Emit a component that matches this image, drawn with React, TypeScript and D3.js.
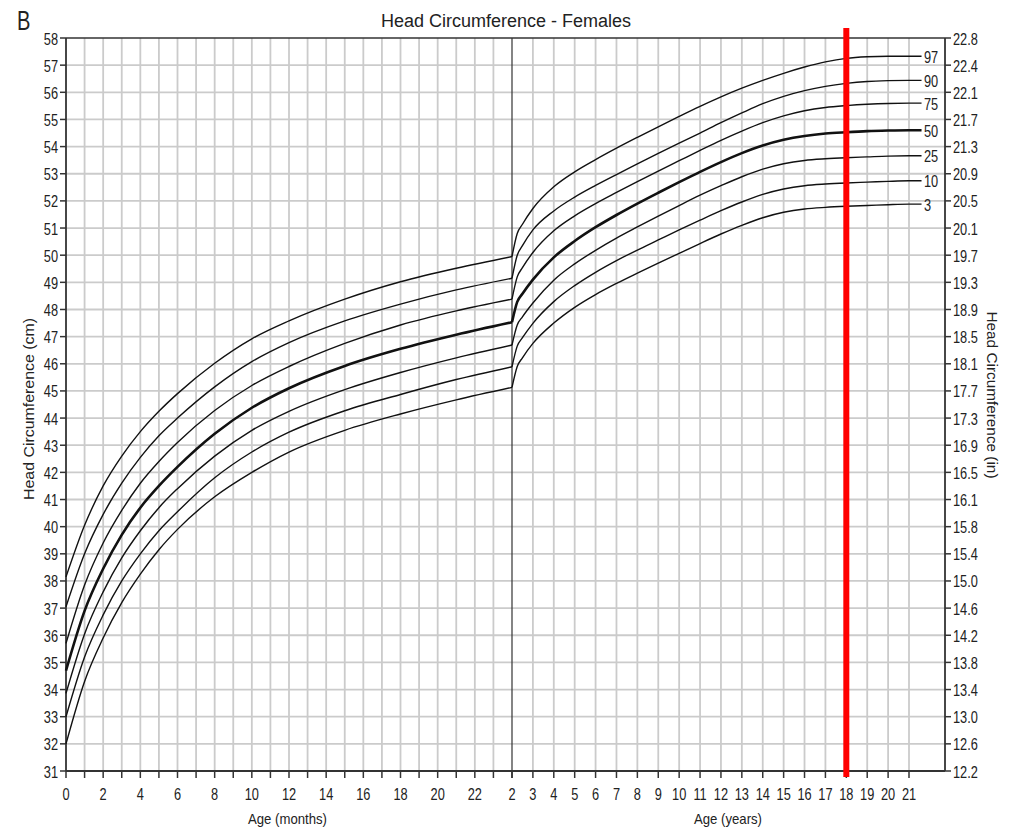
import React from "react";
import * as d3 from "d3";

const width = 1017;
const height = 831;

// infant section, ages in months
const months = [0, 1, 2, 3, 4, 5, 6, 8, 10, 12, 15, 18, 21, 24];
const monthP3 = [32.0, 34.3, 35.9, 37.2, 38.25, 39.15, 39.9, 41.1, 42.0, 42.75, 43.55, 44.15, 44.67, 45.13];
const monthP10 = [33.0, 35.2, 36.75, 38.0, 39.0, 39.85, 40.55, 41.8, 42.75, 43.48, 44.27, 44.87, 45.42, 45.89];
const monthP25 = [33.86, 36.05, 37.6, 38.85, 39.85, 40.7, 41.4, 42.6, 43.55, 44.25, 45.05, 45.68, 46.22, 46.69];
const monthP50 = [34.7, 36.9, 38.45, 39.7, 40.7, 41.5, 42.2, 43.42, 44.38, 45.1, 45.92, 46.55, 47.07, 47.53];
const monthP75 = [35.7, 37.85, 39.4, 40.6, 41.6, 42.4, 43.1, 44.28, 45.2, 45.9, 46.75, 47.43, 47.95, 48.38];
const monthP90 = [37.05, 39.0, 40.45, 41.6, 42.55, 43.35, 44.0, 45.15, 46.08, 46.78, 47.58, 48.2, 48.72, 49.15];
const monthP97 = [38.15, 40.05, 41.5, 42.6, 43.5, 44.25, 44.9, 46.02, 46.92, 47.58, 48.38, 49.02, 49.52, 49.95];

// child section, ages in years
const years = [2, 2.25, 2.5, 3, 4, 5, 6, 7, 8, 9, 10, 11, 12, 13, 14, 15, 16, 17, 18, 19, 20, 21, 21.6];
const yearP3 = [45.13, 45.9, 46.22, 46.75, 47.5, 48.08, 48.55, 48.96, 49.34, 49.71, 50.07, 50.43, 50.78, 51.1, 51.38, 51.58, 51.7, 51.76, 51.8, 51.83, 51.86, 51.88, 51.88];
const yearP10 = [45.89, 46.65, 46.96, 47.49, 48.29, 48.88, 49.37, 49.8, 50.19, 50.56, 50.93, 51.29, 51.64, 51.96, 52.24, 52.44, 52.56, 52.62, 52.66, 52.69, 52.72, 52.74, 52.74];
const yearP25 = [46.69, 47.43, 47.73, 48.24, 49.08, 49.68, 50.18, 50.63, 51.04, 51.44, 51.83, 52.21, 52.56, 52.89, 53.17, 53.37, 53.49, 53.55, 53.59, 53.62, 53.65, 53.66, 53.66];
const yearP50 = [47.53, 48.28, 48.58, 49.1, 49.92, 50.52, 51.03, 51.48, 51.9, 52.3, 52.69, 53.07, 53.43, 53.76, 54.04, 54.25, 54.39, 54.48, 54.53, 54.57, 54.59, 54.6, 54.6];
const yearP75 = [48.38, 49.2, 49.54, 50.1, 50.9, 51.45, 51.9, 52.31, 52.71, 53.1, 53.48, 53.86, 54.23, 54.57, 54.88, 55.13, 55.32, 55.44, 55.51, 55.56, 55.59, 55.6, 55.6];
const yearP90 = [49.15, 50.0, 50.35, 50.93, 51.63, 52.14, 52.57, 52.97, 53.36, 53.75, 54.13, 54.5, 54.88, 55.24, 55.58, 55.85, 56.06, 56.22, 56.33, 56.4, 56.43, 56.44, 56.44];
const yearP97 = [49.95, 50.8, 51.14, 51.72, 52.52, 53.07, 53.52, 53.94, 54.34, 54.73, 55.11, 55.48, 55.83, 56.15, 56.44, 56.7, 56.93, 57.12, 57.25, 57.31, 57.33, 57.33, 57.33];

const percentiles = ["3", "10", "25", "50", "75", "90", "97"];
const monthSeries = [monthP3, monthP10, monthP25, monthP50, monthP75, monthP90, monthP97];
const yearSeries = [yearP3, yearP10, yearP25, yearP50, yearP75, yearP90, yearP97];

const cmTicks = d3.range(31, 59);
const inchLabels = [
  "12.2", "12.6", "13.0", "13.4", "13.8", "14.2", "14.6", "15.0", "15.4", "15.8",
  "16.1", "16.5", "16.9", "17.3", "17.7", "18.1", "18.5", "18.9", "19.3", "19.7",
  "20.1", "20.5", "20.9", "21.3", "21.7", "22.1", "22.4", "22.8",
];
const monthTicks = d3.range(0, 25);
const monthLabels = d3.range(0, 23, 2);
const yearTicks = d3.range(2, 22);
const markerAge = 18;

const left = 66;
const divider = 512;
const right = 945;
const top = 38;
const bottom = 771;

const xM = d3.scaleLinear().domain([0, 24]).range([left, divider]);
const xY = d3.scaleLinear().domain([2, 21]).range([divider, 909]);
const y = d3.scaleLinear().domain([31, 58]).range([bottom, top]);

const monthLine = d3
  .line<number>()
  .x((_, i) => xM(months[i]))
  .y((d) => y(d))
  .curve(d3.curveMonotoneX);
const yearLine = d3
  .line<number>()
  .x((_, i) => xY(years[i]))
  .y((d) => y(d))
  .curve(d3.curveMonotoneX);

const font = "'Liberation Sans', Arial, sans-serif";
const gridColor = "#cbcbcb";
const axisColor = "#333";

// the source uses a condensed face, so squeeze the glyphs a bit
const Narrow = ({ x, y, anchor = "middle", size = 16, sx = 0.8, children }) => (
  <text
    transform={`translate(${x},${y}) scale(${sx},1)`}
    textAnchor={anchor}
    dominantBaseline="central"
    fontSize={size}
    fontFamily={font}
    fill="#222"
  >
    {children}
  </text>
);

const App = () => (
  <svg
    width={width}
    height={height}
    style={{ position: "absolute", left: 0, top: 0, background: "#fff" }}
  >
    {/* grid */}
    <g stroke={gridColor} strokeWidth={1.8}>
      {cmTicks.slice(1, -1).map((c) => (
        <line key={`h${c}`} x1={left} x2={right} y1={y(c)} y2={y(c)} />
      ))}
      {monthTicks.slice(1, -1).map((m) => (
        <line key={`m${m}`} x1={xM(m)} x2={xM(m)} y1={top} y2={bottom} />
      ))}
      {yearTicks.slice(1).map((a) => (
        <line key={`y${a}`} x1={xY(a)} x2={xY(a)} y1={top} y2={bottom} />
      ))}
    </g>

    {/* frame and axes */}
    <g stroke={axisColor} fill="none">
      <line x1={left} x2={right} y1={top} y2={top} strokeWidth={1.6} />
      <line x1={left} x2={right} y1={bottom} y2={bottom} strokeWidth={1.8} />
      <line x1={left} x2={left} y1={top} y2={bottom} strokeWidth={1.8} />
      <line x1={right} x2={right} y1={top} y2={bottom} strokeWidth={1.8} />
      <line x1={divider} x2={divider} y1={top} y2={bottom} strokeWidth={1.2} />
      {cmTicks.map((c) => (
        <g key={`t${c}`}>
          <line x1={left - 6} x2={left} y1={y(c)} y2={y(c)} strokeWidth={1.5} />
          <line x1={right} x2={right + 6} y1={y(c)} y2={y(c)} strokeWidth={1.5} />
        </g>
      ))}
      {monthTicks.map((m) => (
        <line key={`mt${m}`} x1={xM(m)} x2={xM(m)} y1={bottom} y2={bottom + 7} strokeWidth={1.5} />
      ))}
      {yearTicks.map((a) => (
        <line key={`yt${a}`} x1={xY(a)} x2={xY(a)} y1={bottom} y2={bottom + 7} strokeWidth={1.5} />
      ))}
    </g>

    {/* percentile curves */}
    <g fill="none" stroke="#111">
      {percentiles.map((p, i) => (
        <g key={p} strokeWidth={p === "50" ? 2.6 : 1.4}>
          <path d={monthLine(monthSeries[i]) ?? ""} />
          <path d={yearLine(yearSeries[i]) ?? ""} />
        </g>
      ))}
    </g>

    {/* percentile labels */}
    {percentiles.map((p, i) => {
      const s = yearSeries[i];
      return (
        <Narrow key={`l${p}`} x={924} y={y(s[s.length - 1]) + 1} anchor="start" size={16}>
          {p}
        </Narrow>
      );
    })}

    {/* marker at 18 years */}
    <line
      x1={xY(markerAge)}
      x2={xY(markerAge)}
      y1={28}
      y2={bottom + 6}
      stroke="#ff0000"
      strokeWidth={6}
    />

    {/* tick labels */}
    {cmTicks.map((c, i) => (
      <g key={`lab${c}`}>
        <Narrow x={58} y={y(c) + 1} anchor="end">
          {c}
        </Narrow>
        <Narrow x={953} y={y(c) + 1} anchor="start">
          {inchLabels[i]}
        </Narrow>
      </g>
    ))}
    {monthLabels.map((m) => (
      <Narrow key={`ml${m}`} x={xM(m)} y={794}>
        {m}
      </Narrow>
    ))}
    {yearTicks.map((a) => (
      <Narrow key={`yl${a}`} x={xY(a)} y={794}>
        {a}
      </Narrow>
    ))}

    {/* titles */}
    <text x={17} y={30} fontSize={28} fontFamily={font} fill="#222" transform="translate(17,0) scale(0.72,1) translate(-17,0)">
      B
    </text>
    <text
      x={506}
      y={27}
      textAnchor="middle"
      fontSize={18}
      fontFamily={font}
      fill="#222"
      textLength={250}
      lengthAdjust="spacingAndGlyphs"
    >
      Head Circumference - Females
    </text>
    <text x={248} y={824} fontSize={15} fontFamily={font} fill="#222" textLength={79} lengthAdjust="spacingAndGlyphs">
      Age (months)
    </text>
    <text x={694} y={824} fontSize={15} fontFamily={font} fill="#222" textLength={68} lengthAdjust="spacingAndGlyphs">
      Age (years)
    </text>
    <text
      transform="translate(33.5,409) rotate(-90)"
      textAnchor="middle"
      fontSize={14}
      fontFamily={font}
      fill="#222"
      textLength={182}
      lengthAdjust="spacingAndGlyphs"
    >
      Head Circumference (cm)
    </text>
    <text
      transform="translate(987,395) rotate(90)"
      textAnchor="middle"
      fontSize={14}
      fontFamily={font}
      fill="#222"
      textLength={167}
      lengthAdjust="spacingAndGlyphs"
    >
      Head Circumference (in)
    </text>
  </svg>
);

export default App;
